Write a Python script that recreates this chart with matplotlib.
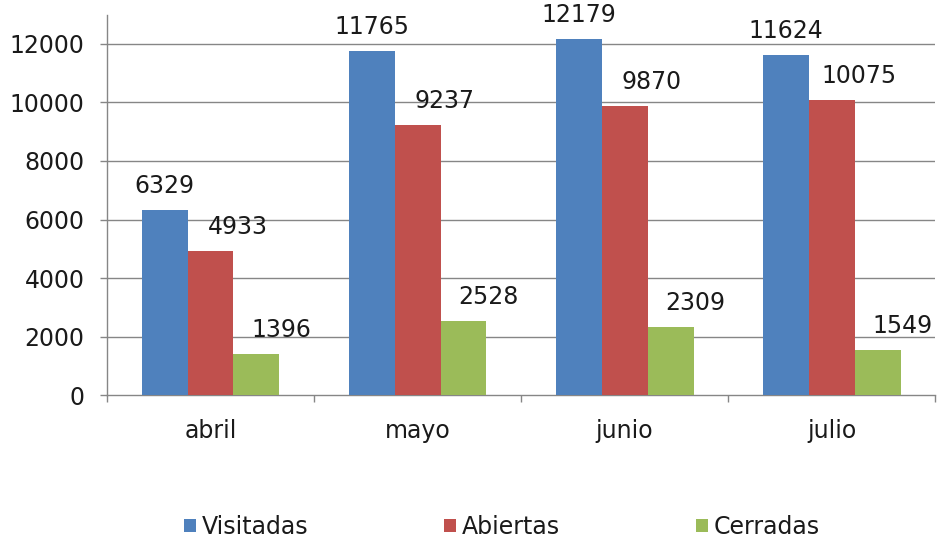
import numpy as np
import matplotlib
matplotlib.use('Agg')
from matplotlib import pyplot as plt

meses = ['abril', 'mayo', 'junio', 'julio']
visitadas = [6329, 11765, 12179, 11624]
abiertas = [4933, 9237, 9870, 10075]
cerradas = [1396, 2528, 2309, 1549]

series = [('Visitadas', visitadas, '#4F81BD', 0),
          ('Abiertas', abiertas, '#C0504D', 27),
          ('Cerradas', cerradas, '#9BBB59', 25)]

plt.rcParams['font.family'] = ['DejaVu Sans']
gris = '#868686'
fs = 17

fig = plt.figure(figsize=(9.4, 5.42), dpi=100)
ax = fig.add_axes([0.1138, 0.2712, 0.881, 0.7016])

x = np.arange(len(meses))
w = 0.222
for i, (nombre, vals, color, dx) in enumerate(series):
    pos = x + (i - 1) * w
    ax.bar(pos, vals, w, color=color, label=nombre, zorder=3)
    for px, v in zip(pos, vals):
        ax.annotate(str(v), (px, v), xytext=(dx, 24), textcoords='offset pixels',
                    ha='center', va='center', fontsize=fs, color='#1a1a1a',
                    annotation_clip=False, zorder=4)

ax.set_xlim(-0.5, 3.5)
ax.set_ylim(0, 13000)
ax.set_yticks(range(0, 12001, 2000))
ax.set_xticks(x)
ax.set_xticklabels(meses)
ax.set_xticks(np.arange(-0.5, 3.6, 1), minor=True)
ax.tick_params(axis='x', which='major', length=0, pad=17, labelsize=fs, labelcolor='#1a1a1a')
ax.tick_params(axis='x', which='minor', length=5, width=1, color=gris)
ax.tick_params(axis='y', length=5, width=1, color=gris, pad=11, labelsize=fs, labelcolor='#1a1a1a')

# lineas de cuadricula (sin la de 0, que es el eje)
for yv in range(2000, 12001, 2000):
    ax.axhline(yv, color=gris, lw=1, zorder=1)

for s in ['top', 'right']:
    ax.spines[s].set_visible(False)
for s in ['left', 'bottom']:
    ax.spines[s].set_color(gris)
    ax.spines[s].set_linewidth(1)

fig.legend(loc='center', bbox_to_anchor=(0.534, 0.028), ncol=3, frameon=False,
           fontsize=fs, handlelength=0.5, handleheight=0.5, handletextpad=0.25,
           columnspacing=5.75, labelcolor='#1a1a1a')

fig.savefig('out.png', dpi=100)
